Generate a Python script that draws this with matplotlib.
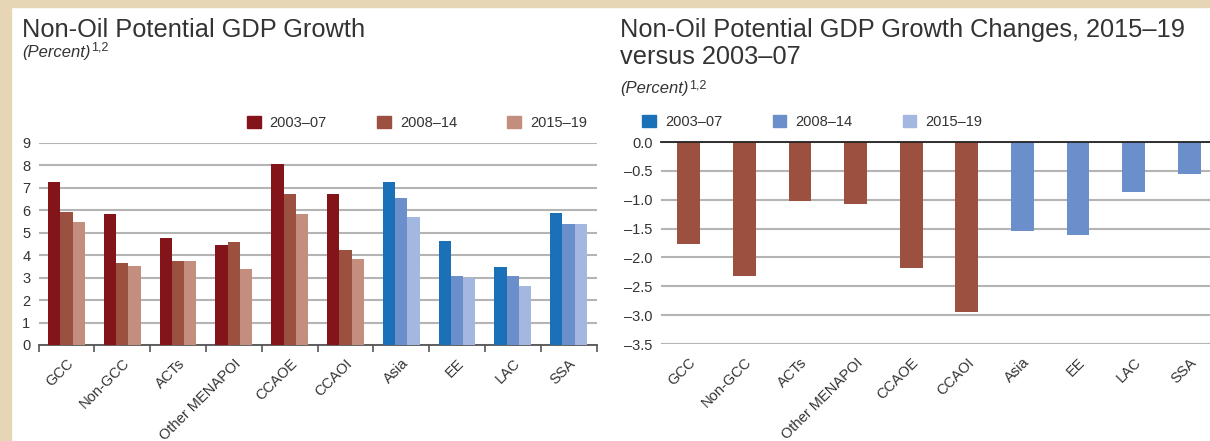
import numpy as np
import matplotlib
matplotlib.use("Agg")
import matplotlib.pyplot as plt
from matplotlib.patches import Patch, Rectangle

# datos
categorias = ["GCC", "Non-GCC", "ACTs", "Other MENAPOI", "CCAOE", "CCAOI",
              "Asia", "EE", "LAC", "SSA"]
periodos = ["2003–07", "2008–14", "2015–19"]
g_2003_07 = [7.28, 5.85, 4.78, 4.47, 8.05, 6.75, 7.28, 4.64, 3.48, 5.90]
g_2008_14 = [5.93, 3.66, 3.76, 4.57, 6.75, 4.25, 6.57, 3.08, 3.07, 5.37]
g_2015_19 = [5.50, 3.54, 3.76, 3.39, 5.85, 3.81, 5.72, 3.00, 2.64, 5.37]
cambio = [-1.76, -2.32, -1.02, -1.08, -2.18, -2.94, -1.55, -1.62, -0.87, -0.555]
n_mena = 6   # las primeras 6 son MENAP/CCA (rojos), el resto azules

rojos = ["#83141A", "#9C5040", "#C38E7D"]
azules = ["#1B71B8", "#6B8FCB", "#A4B7E0"]
beige = "#E6D6B6"
gris_txt = "#333333"

plt.rcParams['font.family'] = ['Liberation Sans', 'DejaVu Sans']
fuente_tit = ['Liberation Sans', 'DejaVu Sans']
tam_tit = 18.3

W, H = 1210, 441
fig = plt.figure(figsize=(W / 100, H / 100), dpi=100)
fig.patch.set_facecolor("white")

# borde beige (izquierda y arriba)
fig.patches.append(Rectangle((0, 0), 11.5 / W, 1, transform=fig.transFigure,
                             color=beige, zorder=0))
fig.patches.append(Rectangle((0, 1 - 7 / H), 1, 7 / H, transform=fig.transFigure,
                             color=beige, zorder=0))


def px_axes(x0, x1, ytop, ybot):
    return fig.add_axes([x0 / W, 1 - ybot / H, (x1 - x0) / W, (ybot - ytop) / H])


#%% Panel izquierdo
ax1 = px_axes(38.6, 596.5, 143, 345)
x = np.arange(len(categorias))
ancho = 0.22
series = [g_2003_07, g_2008_14, g_2015_19]
for k, vals in enumerate(series):
    cols = [rojos[k] if i < n_mena else azules[k] for i in range(len(categorias))]
    ax1.bar(x + (k - 1) * ancho, vals, ancho, color=cols, zorder=3)

ax1.set_xlim(-0.5, len(categorias) - 0.5)
ax1.set_ylim(0, 9)
ax1.set_yticks(np.arange(0, 10, 1))
ax1.yaxis.grid(True, color="#B4B4B4", linewidth=1.5, zorder=0)
for s in ["top", "right", "left"]:
    ax1.spines[s].set_visible(False)
ax1.spines["bottom"].set_color("#555555")
ax1.spines["bottom"].set_linewidth(1.3)
ax1.tick_params(axis="y", length=0, labelsize=10.5, labelcolor=gris_txt, pad=6)
ax1.set_xticks(np.arange(-0.5, len(categorias), 1.0))
ax1.set_xticklabels([])
ax1.tick_params(axis="x", which="major", length=5, width=1.2, color="#555555",
                direction="out")
ax1.set_xticks(x, minor=True)
ax1.set_xticklabels(categorias, minor=True, rotation=45, ha="right",
                    rotation_mode="anchor", fontsize=10.5, color=gris_txt)
ax1.tick_params(axis="x", which="minor", length=0, pad=8)

hl = [Patch(color=c) for c in rojos]
ax1.legend(hl, periodos, loc="lower left", bbox_to_anchor=(0.35, 1.0), ncol=3,
           frameon=False, fontsize=10.5, handlelength=0.95, handleheight=0.95,
           columnspacing=3.45, handletextpad=0.6, borderaxespad=0.5,
           labelcolor=gris_txt)

fig.text(22 / W, 1 - 30 / H, "Non-Oil Potential GDP Growth", family=fuente_tit,
         fontsize=tam_tit, color=gris_txt, va="center", ha="left")
fig.text(22 / W, 1 - 52 / H, r"(Percent)", family=fuente_tit, style="italic",
         fontsize=12, color=gris_txt, va="center", ha="left")
fig.text(91 / W, 1 - 48 / H, "1,2", family=fuente_tit,
         fontsize=9, color=gris_txt, va="center", ha="left")

#%% Panel derecho
ax2 = px_axes(661, 1217, 142, 344)
cols2 = [rojos[1] if i < n_mena else azules[1] for i in range(len(categorias))]
ax2.bar(x, cambio, 0.41, color=cols2, zorder=3)
ax2.set_xlim(-0.5, len(categorias) - 0.5)
ax2.set_ylim(-3.5, 0)
ax2.set_yticks(np.arange(-3.5, 0.01, 0.5))
ax2.set_yticklabels([f"{v:.1f}".replace("-", "–") for v in np.arange(-3.5, 0.01, 0.5)])
ax2.yaxis.grid(True, color="#B4B4B4", linewidth=1.5, zorder=0)
for s in ["bottom", "right", "left"]:
    ax2.spines[s].set_visible(False)
ax2.spines["top"].set_color("#222222")
ax2.spines["top"].set_linewidth(1.3)
ax2.spines["top"].set_zorder(4)
ax2.tick_params(axis="y", length=0, labelsize=10.5, labelcolor=gris_txt, pad=6)
ax2.set_xticks(x)
ax2.set_xticklabels(categorias, rotation=45, ha="right", rotation_mode="anchor",
                    fontsize=10.5, color=gris_txt)
ax2.tick_params(axis="x", length=0, pad=8)

hl2 = [Patch(color=c) for c in azules]
ax2.legend(hl2, periodos, loc="lower left", bbox_to_anchor=(-0.057, 1.0), ncol=3,
           frameon=False, fontsize=10.5, handlelength=0.95, handleheight=0.95,
           columnspacing=3.45, handletextpad=0.6, borderaxespad=0.5,
           labelcolor=gris_txt)

fig.text(620 / W, 1 - 30 / H, "Non-Oil Potential GDP Growth Changes, 2015–19",
         family=fuente_tit, fontsize=tam_tit, color=gris_txt, va="center", ha="left")
fig.text(620 / W, 1 - 57 / H, "versus 2003–07",
         family=fuente_tit, fontsize=tam_tit, color=gris_txt, va="center", ha="left")
fig.text(620 / W, 1 - 89 / H, r"(Percent)", family=fuente_tit, style="italic",
         fontsize=12, color=gris_txt, va="center", ha="left")
fig.text(689 / W, 1 - 85 / H, "1,2", family=fuente_tit,
         fontsize=9, color=gris_txt, va="center", ha="left")

fig.savefig("out.png", dpi=100)
